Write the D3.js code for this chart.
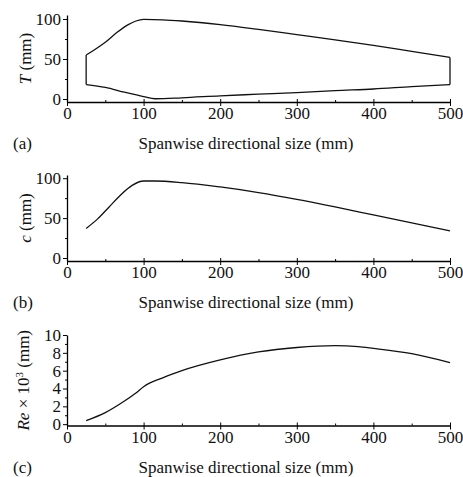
<!DOCTYPE html>
<meta charset="utf-8">
<style>
body{margin:0;background:#fff;}
svg{display:block;font-family:"Liberation Serif","Times New Roman",serif;}
</style>
<svg width="463" height="477"></svg>
<script src="https://cdn.jsdelivr.net/npm/d3@7"></script>
<script>
// spanwise position (mm) and values
const upperX=[25,35,50,65,80,90,100,125,150,200,250,300,350,400,450,500];
const upperT=[55,61,71,83,93,97.5,99.5,99,97.5,93,87,80.5,74,67,59.5,52];
const lowerX=[25,50,75,100,115,150,200,250,300,350,400,450,500];
const lowerT=[18,14.5,8.5,3,0.3,1.5,4,6,8,10.5,12.5,15.5,18];
const cX=[25,40,55,70,85,100,115,150,200,250,300,350,400,450,500];
const cVal=[37,49,64,79,91,96.5,96.5,94.5,89,82,73.5,64,54,44,34];
const reX=[25,50,75,90,100,125,150,200,250,300,350,380,400,450,500];
const reVal=[0.4,1.3,2.6,3.5,4.2,5.2,6.0,7.2,8.1,8.6,8.8,8.7,8.5,7.9,6.9];
const xTicks=[0,100,200,300,400,500];

var svg=d3.select("svg");
var x=d3.scaleLinear().domain([0,500]).range([67,450]);
var line=d3.line().curve(d3.curveMonotoneX);

function panel(opt){
  var y=d3.scaleLinear().domain(opt.ydom).range(opt.yrange);
  var g=svg.append("g");
  // x axis
  var xa=g.append("g").attr("transform","translate(0,"+opt.yrange[0]+")")
    .call(d3.axisBottom(x).tickValues(xTicks).tickSize(4).tickSizeOuter(0).tickPadding(1));
  xa.selectAll(".tick line").attr("y1",-3);
  g.append("g").attr("transform","translate(0,"+opt.yrange[0]+")")
    .call(d3.axisTop(x).tickValues([50,150,250,350,450]).tickSize(2).tickSizeOuter(0).tickFormat(""))
    .select(".domain").remove();
  // y axis
  g.append("g").attr("transform","translate("+x(0)+",0)")
    .call(d3.axisLeft(y).tickValues(opt.yticks).tickSize(4).tickSizeOuter(0).tickPadding(2));
  g.append("g").attr("transform","translate("+x(0)+",0)")
    .call(d3.axisLeft(y).tickValues(opt.yminor).tickSize(2).tickSizeOuter(0).tickFormat(""))
    .select(".domain").remove();
  g.selectAll(".domain").attr("stroke-width",1.3);
  g.selectAll("text").attr("font-family","Liberation Serif").attr("font-size",17).attr("fill","#111");
  // curves
  opt.series.forEach(function(s){
    g.append("path").attr("fill","none").attr("stroke","#111").attr("stroke-width",1.3)
      .attr("d",line(s.x.map(function(v,i){return [x(v),y(s.y[i])];})));
  });
  if(opt.closeEnds){
    [0,1].forEach(function(k){
      var a=opt.series[0],b=opt.series[1];
      var ia=k?a.x.length-1:0, ib=k?b.x.length-1:0;
      g.append("line").attr("stroke","#111").attr("stroke-width",1.3)
        .attr("x1",x(a.x[ia])).attr("x2",x(b.x[ib]))
        .attr("y1",y(a.y[ia])).attr("y2",y(b.y[ib]));
    });
  }
  // labels
  g.append("text").attr("x",246).attr("y",opt.yrange[0]+47).attr("text-anchor","middle")
    .attr("font-size",17).attr("fill","#111").text("Spanwise directional size (mm)");
  g.append("text").attr("x",13).attr("y",opt.yrange[0]+47)
    .attr("font-size",17).attr("fill","#111").text(opt.tag);
  var yl=g.append("text").attr("transform","translate("+opt.ylx+","+((opt.yrange[0]+opt.yrange[1])/2)+") rotate(-90)")
    .attr("text-anchor","middle").attr("font-size",17).attr("fill","#111");
  opt.ylabel(yl);
}

panel({ydom:[-3.75,105],yrange:[102,15],yticks:[0,50,100],yminor:[25,75],tag:"(a)",ylx:31,
  series:[{x:upperX,y:upperT},{x:lowerX,y:lowerT}],closeEnds:true,
  ylabel:function(t){t.append("tspan").attr("font-style","italic").text("T");t.append("tspan").text(" (mm)");}});
panel({ydom:[-3.75,104],yrange:[261,175],yticks:[0,50,100],yminor:[25,75],tag:"(b)",ylx:31,
  series:[{x:cX,y:cVal}],
  ylabel:function(t){t.append("tspan").attr("font-style","italic").text("c");t.append("tspan").text(" (mm)");}});
panel({ydom:[-0.15,10],yrange:[425.5,335],yticks:[0,2,4,6,8,10],yminor:[1,3,5,7,9],tag:"(c)",ylx:29,
  series:[{x:reX,y:reVal}],
  ylabel:function(t){t.append("tspan").attr("font-style","italic").text("Re");t.append("tspan").text(" \u00d7 10");
    t.append("tspan").attr("baseline-shift","super").attr("font-size",11).text("3");t.append("tspan").text(" (mm)");}});
</script>
